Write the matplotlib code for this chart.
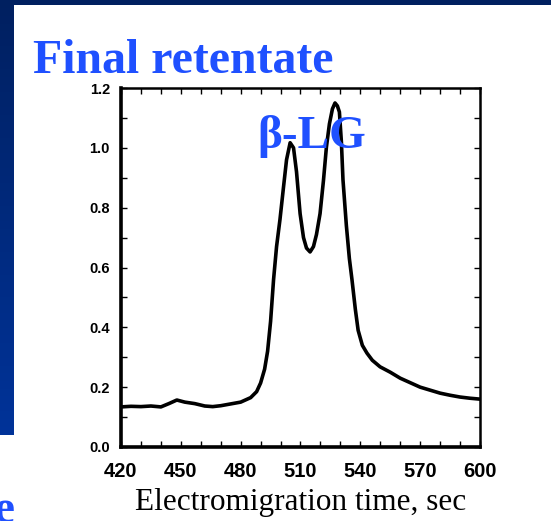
import numpy as np
import matplotlib
matplotlib.use("Agg")
import matplotlib.pyplot as plt
from matplotlib.ticker import MultipleLocator, FormatStrFormatter
from matplotlib.patches import Rectangle
from matplotlib.colors import LinearSegmentedColormap

# ---- data ----
time_s = [420, 425, 430, 435, 440, 444, 448, 452, 457, 462, 466, 470, 475, 480,
          485, 488, 490, 492, 493.5, 495, 496.5, 498, 499.7, 501.5, 503, 504.8,
          506.5, 508, 509.8, 511.5, 513, 514.8, 516.5, 518, 519.8, 521.5, 523,
          524.5, 526, 527.3, 528.5, 529.5, 530.5, 531.3, 533, 534.5, 535.8,
          537.5, 538.9, 541, 543.3, 546, 549.9, 555, 560, 565, 570, 575, 580,
          585, 590, 595, 600]
absorbance = [0.134, 0.136, 0.135, 0.137, 0.134, 0.145, 0.157, 0.150, 0.145,
              0.137, 0.135, 0.138, 0.144, 0.150, 0.165, 0.185, 0.214, 0.26,
              0.32, 0.42, 0.56, 0.67, 0.76, 0.87, 0.96, 1.017, 1.00, 0.92,
              0.78, 0.70, 0.665, 0.652, 0.67, 0.71, 0.78, 0.89, 1.003, 1.08,
              1.13, 1.15, 1.14, 1.12, 1.02, 0.893, 0.74, 0.63, 0.56, 0.46,
              0.39, 0.34, 0.314, 0.29, 0.268, 0.25, 0.23, 0.215, 0.20, 0.19,
              0.18, 0.173, 0.167, 0.163, 0.160]
x_ticks = [420, 450, 480, 510, 540, 570, 600]
y_ticks = [0.0, 0.2, 0.4, 0.6, 0.8, 1.0, 1.2]
title_text = "Final retentate"
peak_label = "β-LG"
x_label = "Electromigration time, sec"

W, H = 551, 521
fig = plt.figure(figsize=(W / 100, H / 100), dpi=100)
fig.patch.set_facecolor("white")

NAVY = "#002060"
BLUE = "#1F50FF"

# slide decorations
fig.patches.append(Rectangle((0, 1 - 5 / H), 1, 5 / H, transform=fig.transFigure,
                             facecolor=NAVY, edgecolor="none", zorder=0))
bar_ax = fig.add_axes([0, (H - 435) / H, 13.5 / W, 435 / H])
grad = np.linspace(0, 1, 256).reshape(-1, 1)
cm = LinearSegmentedColormap.from_list("bar", [NAVY, "#003399"])
bar_ax.imshow(grad, aspect="auto", cmap=cm, origin="upper")
bar_ax.set_axis_off()

# main axes
ax = fig.add_axes([121 / W, (H - 447) / H, (480 - 121) / W, (447 - 88) / H])
ax.plot(time_s, absorbance, color="black", lw=2.6, solid_joinstyle="round", zorder=2)
ax.set_xlim(420, 600)
ax.set_ylim(0, 1.2)
ax.set_xticks(x_ticks)
ax.set_yticks(y_ticks)
ax.xaxis.set_minor_locator(MultipleLocator(10))
ax.yaxis.set_minor_locator(MultipleLocator(0.1))
ax.yaxis.set_major_formatter(FormatStrFormatter("%.1f"))
ax.tick_params(which="both", direction="in", top=True, right=True,
               length=4, width=1.0, color="black")
ax.tick_params(axis="x", which="major", pad=11)
ax.tick_params(axis="y", which="major", pad=8)
for lab in ax.get_xticklabels():
    lab.set_fontfamily("Liberation Sans")
    lab.set_fontweight("bold")
    lab.set_fontsize(14.5)
for lab in ax.get_yticklabels():
    lab.set_fontfamily("Liberation Sans")
    lab.set_fontweight("bold")
    lab.set_fontsize(10.5)
ax.spines["left"].set_linewidth(2.6)
ax.spines["bottom"].set_linewidth(2.6)
ax.spines["top"].set_linewidth(1.8)
ax.spines["right"].set_linewidth(1.8)
ax.set_xlabel(x_label, fontfamily="Liberation Serif", fontsize=22.5, labelpad=5)

# texts
fig.text(33 / W, 1 - 73 / H, title_text, fontfamily="Liberation Serif",
         fontweight="bold", fontsize=34.5, color=BLUE, ha="left", va="baseline")
fig.text(257 / W, 1 - 148 / H, peak_label, fontfamily="Liberation Serif",
         fontweight="bold", fontsize=34, color=BLUE, ha="left", va="baseline", zorder=5)
fig.text(14 / W, 1 - 522 / H, "e", fontfamily="Liberation Serif",
         fontweight="bold", fontsize=34, color=BLUE, ha="right", va="baseline")

fig.savefig("out.png", dpi=100, facecolor=fig.get_facecolor())
